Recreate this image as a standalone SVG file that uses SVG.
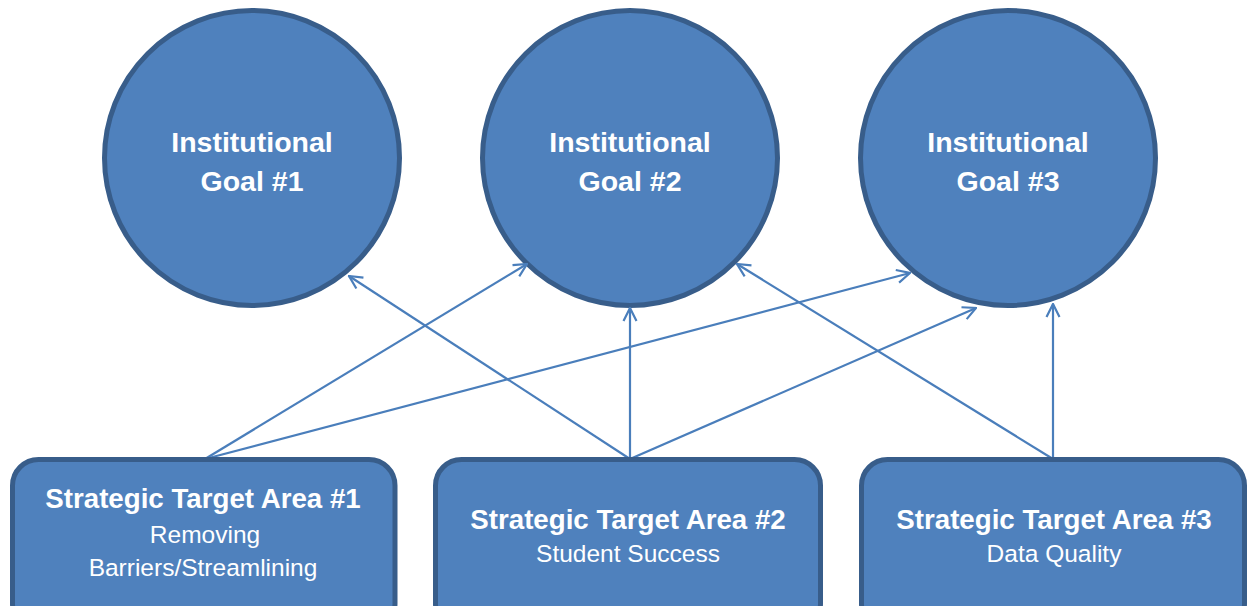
<svg xmlns="http://www.w3.org/2000/svg" width="1248" height="606" viewBox="0 0 1248 606">
  <style>
    .goal { fill: #4f81bd; stroke: #385d8a; stroke-width: 5; }
    .area { fill: #4f81bd; stroke: #385d8a; stroke-width: 5; }
    .title { font-family: "Liberation Sans", Arial, sans-serif; font-weight: bold; fill: #ffffff; text-anchor: middle; }
    .sub { font-family: "Liberation Sans", Arial, sans-serif; fill: #ffffff; text-anchor: middle; font-size: 24.5px; }
    .link { stroke: #4a7ebb; stroke-width: 2.2; fill: none; marker-end: url(#open); }
  </style>
  <defs>
    <marker id="open" viewBox="0 0 16 16" refX="15" refY="8" markerWidth="16" markerHeight="16" markerUnits="userSpaceOnUse" orient="auto">
      <path d="M2,1.5 L15,8 L2,14.5" fill="none" stroke="#4a7ebb" stroke-width="2.2"/>
    </marker>
  </defs>

  <rect width="1248" height="606" fill="#ffffff"/>

  <g id="goal1">
    <circle class="goal" cx="252" cy="158" r="147.5"/>
    <text class="title" x="252" y="152" font-size="28.5">Institutional</text>
    <text class="title" x="252" y="191" font-size="28.5">Goal #1</text>
  </g>
  <g id="goal2">
    <circle class="goal" cx="630" cy="158" r="147.5"/>
    <text class="title" x="630" y="152" font-size="28.5">Institutional</text>
    <text class="title" x="630" y="191" font-size="28.5">Goal #2</text>
  </g>
  <g id="goal3">
    <circle class="goal" cx="1008" cy="158" r="147.5"/>
    <text class="title" x="1008" y="152" font-size="28.5">Institutional</text>
    <text class="title" x="1008" y="191" font-size="28.5">Goal #3</text>
  </g>

  <g id="connectors">
    <line class="link" x1="205" y1="459" x2="527" y2="264"/>
    <line class="link" x1="205" y1="459" x2="910" y2="273"/>
    <line class="link" x1="630" y1="459" x2="349" y2="276"/>
    <line class="link" x1="630" y1="459" x2="630" y2="308"/>
    <line class="link" x1="630" y1="459" x2="976" y2="308"/>
    <line class="link" x1="1053" y1="459" x2="737" y2="264"/>
    <line class="link" x1="1053" y1="459" x2="1053" y2="304"/>
  </g>

  <g id="area1">
    <rect class="area" x="12.5" y="459.5" width="382.5" height="170" rx="26" ry="26"/>
    <text class="title" x="203" y="508" font-size="27.7">Strategic Target Area #1</text>
    <text class="sub" x="205" y="543">Removing</text>
    <text class="sub" x="203" y="576">Barriers/Streamlining</text>
  </g>
  <g id="area2">
    <rect class="area" x="435.5" y="459.5" width="385" height="170" rx="26" ry="26"/>
    <text class="title" x="628" y="529" font-size="27.7">Strategic Target Area #2</text>
    <text class="sub" x="628" y="562">Student Success</text>
  </g>
  <g id="area3">
    <rect class="area" x="861.5" y="459.5" width="383" height="170" rx="26" ry="26"/>
    <text class="title" x="1054" y="529" font-size="27.7">Strategic Target Area #3</text>
    <text class="sub" x="1054" y="562">Data Quality</text>
  </g>
</svg>
